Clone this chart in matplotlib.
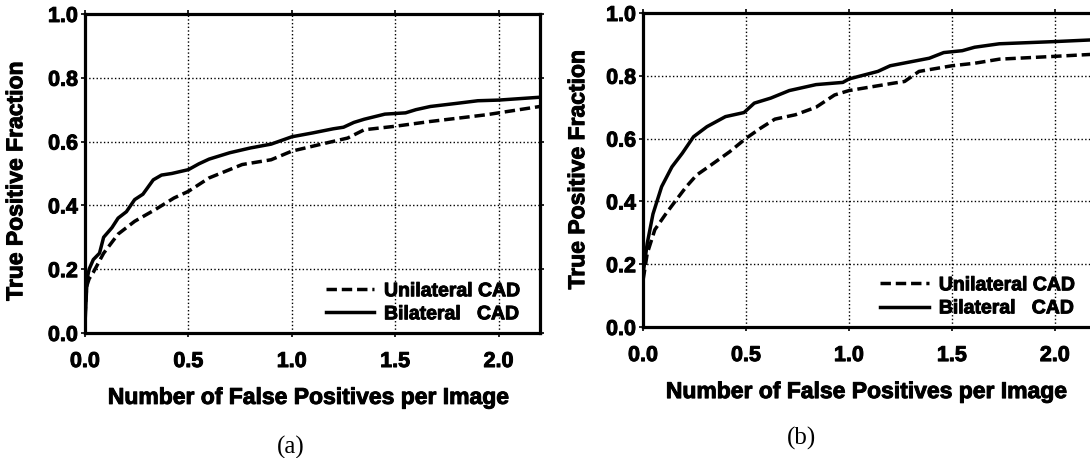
import matplotlib.pyplot as plt
import matplotlib.patheffects as pe

plt.rcParams['font.family'] = ['Liberation Sans', 'DejaVu Sans']
plt.rcParams['font.weight'] = 'bold'

# panel (a) curves
a_uni_x = [0.0, 0.005, 0.01, 0.02, 0.04, 0.09, 0.16, 0.24, 0.34, 0.43, 0.5, 0.6, 0.76,
           0.9, 1.0, 1.17, 1.27, 1.35, 1.5, 1.67, 1.94, 2.0, 2.2]
a_uni_y = [0.05, 0.12, 0.15, 0.17, 0.19, 0.25, 0.31, 0.35, 0.387, 0.423, 0.444, 0.486, 0.528,
           0.543, 0.57, 0.596, 0.611, 0.637, 0.648, 0.663, 0.684, 0.69, 0.71]
a_bi_x = [0.0, 0.005, 0.01, 0.02, 0.04, 0.07, 0.09, 0.13, 0.16, 0.2, 0.24, 0.28, 0.33, 0.37,
          0.42, 0.5, 0.55, 0.6, 0.65, 0.7, 0.8, 0.9, 1.0, 1.1, 1.2, 1.25, 1.3, 1.35, 1.45,
          1.55, 1.6, 1.67, 1.8, 1.9, 2.0, 2.2]
a_bi_y = [0.03, 0.1, 0.17, 0.2, 0.23, 0.25, 0.30, 0.33, 0.36, 0.38, 0.418, 0.435, 0.48, 0.495,
          0.5, 0.512, 0.53, 0.545, 0.555, 0.565, 0.58, 0.592, 0.615, 0.627, 0.64, 0.645, 0.66,
          0.67, 0.686, 0.69, 0.7, 0.71, 0.72, 0.728, 0.73, 0.739]

# panel (b)
b_uni_x = [0.0, 0.005, 0.02, 0.057, 0.11, 0.16, 0.21, 0.26, 0.33, 0.42, 0.5, 0.57, 0.64,
           0.74, 0.84, 0.93, 1.0, 1.22, 1.27, 1.34, 1.5, 1.61, 1.73, 2.0, 2.2]
b_uni_y = [0.15, 0.17, 0.234, 0.31, 0.36, 0.404, 0.447, 0.484, 0.516, 0.558, 0.601, 0.633,
           0.662, 0.676, 0.7, 0.739, 0.753, 0.777, 0.782, 0.814, 0.832, 0.84, 0.853, 0.862, 0.869]
b_bi_x = [0.0, 0.02, 0.048, 0.09, 0.14, 0.19, 0.245, 0.31, 0.4, 0.49, 0.54, 0.62, 0.71,
          0.84, 0.97, 1.0, 1.14, 1.2, 1.39, 1.46, 1.55, 1.61, 1.73, 2.0, 2.2]
b_bi_y = [0.17, 0.266, 0.36, 0.447, 0.51, 0.553, 0.606, 0.638, 0.67, 0.683, 0.713, 0.729,
          0.753, 0.772, 0.779, 0.79, 0.814, 0.832, 0.856, 0.874, 0.88, 0.891, 0.902, 0.909, 0.915]

xticks = [0.0, 0.5, 1.0, 1.5, 2.0]
yticks = [0.0, 0.2, 0.4, 0.6, 0.8, 1.0]

# thicker look for the heavy sans text of the original
heavy = [pe.withStroke(linewidth=0.7, foreground='black')]

fig = plt.figure(figsize=(10.9, 4.58), dpi=100)
ax1 = fig.add_axes([0.078, 0.273, 0.4174, 0.6965])
ax2 = fig.add_axes([0.590, 0.286, 0.4156, 0.6856])

# ax, data, ylabel pos, xlabel pos, legend anchor, tag pos (px)
panels = [
    (ax1, a_uni_x, a_uni_y, a_bi_x, a_bi_y, (-0.127, 0.475), (0.49, -0.166),
     (0.974, 0.006), 'a', 291, 447),
    (ax2, b_uni_x, b_uni_y, b_bi_x, b_bi_y, (-0.119, 0.5), (0.492, -0.169),
     (0.971, 0.006), 'b', 802, 438),
]

for ax, ux, uy, bx, by, ylab_pos, xlab_pos, leg_pos, tag, tag_x, tag_y in panels:
    ax.plot(ux, uy, color='black', lw=2.5, linestyle=(0, (3, 1.4)), label='Unilateral CAD')
    ax.plot(bx, by, color='black', lw=2.5, label='Bilateral   CAD')
    ax.set_xlim(0, 2.2)
    ax.set_ylim(0, 1.0)
    ax.set_xticks(xticks)
    ax.set_yticks(yticks)
    ax.set_xticklabels(['%.1f' % v for v in xticks])
    ax.set_yticklabels(['%.1f' % v for v in yticks])
    ax.grid(True, color='black', linestyle=':', linewidth=1.0)
    for s in ax.spines.values():
        s.set_linewidth(2.3)
    ax.tick_params(direction='out', length=3, width=1.2, labelsize=15.5,
                   top=True, right=True)
    ax.tick_params(axis='x', pad=10)
    ax.tick_params(axis='y', pad=2)
    ax.set_ylabel('True Positive Fraction', fontsize=16.5, fontweight='bold')
    ax.yaxis.set_label_coords(*ylab_pos)
    ax.set_xlabel('Number of False Positives per Image', fontsize=16.5, fontweight='bold')
    ax.xaxis.set_label_coords(*xlab_pos)
    leg = ax.legend(loc='lower right', bbox_to_anchor=leg_pos, frameon=False,
                    prop={'size': 14, 'weight': 'bold'},
                    handlelength=2.5, handletextpad=0.5, labelspacing=0.28,
                    borderaxespad=0.0)
    texts = ax.get_xticklabels() + ax.get_yticklabels() + leg.get_texts()
    texts += [ax.xaxis.label, ax.yaxis.label]
    for t in texts:
        t.set_path_effects(heavy)
    fig.text(tag_x / 1090, 1 - tag_y / 458, '(%s)' % tag,
             ha='center', va='center', fontsize=18, fontweight='normal',
             family=['Liberation Serif', 'DejaVu Serif'])

fig.savefig('out.png', dpi=100)
